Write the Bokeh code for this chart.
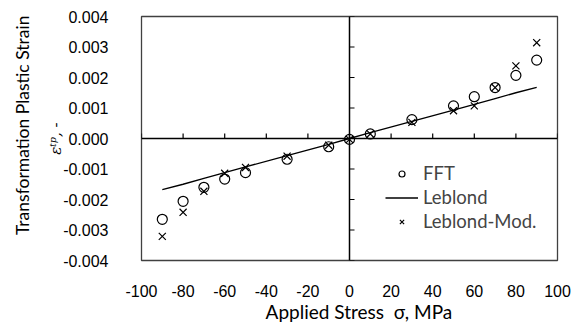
import math
from bokeh.plotting import figure
from bokeh.models import (Range1d, LinearAxis, FixedTicker, NumeralTickFormatter,
                          Span, Legend, LegendItem)
from bokeh.embed import file_html
from bokeh.resources import INLINE

stress = [-90, -80, -70, -60, -50, -30, -10, 0, 10, 30, 50, 60, 70, 80, 90]
fft = [-0.00265, -0.00206, -0.00160, -0.00133, -0.00112, -0.00068, -0.00027, -0.00003,
       0.00015, 0.00062, 0.00107, 0.00137, 0.00167, 0.00207, 0.00257]
leblond = [-0.00168, -0.00150, -0.00131, -0.00112, -0.00093, -0.00056, -0.00019, 0.0,
           0.00019, 0.00056, 0.00093, 0.00112, 0.00131, 0.00150, 0.00168]
leblond_mod = [-0.00321, -0.00242, -0.00173, -0.00114, -0.00095, -0.00058, -0.00022, -0.00003,
               0.00015, 0.00053, 0.00091, 0.00107, 0.00167, 0.00238, 0.00314]
x_ticks = [-100, -80, -60, -40, -20, 0, 20, 40, 60, 80, 100]
y_ticks = [-0.004, -0.003, -0.002, -0.001, 0.0, 0.001, 0.002, 0.003, 0.004]

TICK_FONT = "Liberation Sans"
TEXT_FONT = "Lato"
NB = "\u00a0"

p = figure(width=574, height=325, output_backend="svg", toolbar_location=None,
           x_range=Range1d(-100, 100), y_range=Range1d(-0.004, 0.004),
           min_border_left=141, min_border_right=17, min_border_top=16,
           min_border_bottom=63)
p.background_fill_color = "white"
p.border_fill_color = "white"
p.outline_line_color = "#404040"
p.outline_line_width = 1.3
p.grid.visible = False

xa = p.xaxis[0]
ya = p.yaxis[0]
for ax in (xa, ya):
    ax.axis_line_color = None
    ax.major_tick_line_color = None
    ax.minor_tick_line_color = None
    ax.major_label_text_font = TICK_FONT
    ax.major_label_text_font_size = "16px"
    ax.major_label_text_color = "black"
    ax.axis_label_text_color = "black"
xa.ticker = FixedTicker(ticks=x_ticks)
ya.ticker = FixedTicker(ticks=y_ticks)
xa.formatter = NumeralTickFormatter(format="0")
ya.formatter = NumeralTickFormatter(format="0.000")
xa.major_label_standoff = 18
ya.major_label_standoff = 27

xa.axis_label = NB * 4 + "Applied Stress" + NB + " σ, MPa"
xa.axis_label_text_font = TEXT_FONT
xa.axis_label_text_font_size = "19px"
xa.axis_label_text_font_style = "normal"
xa.axis_label_standoff = 0

ya.axis_label = "εᵗᵖ, -"
ya.axis_label_text_font = "DejaVu Serif"
ya.axis_label_text_font_style = "italic"
ya.axis_label_text_font_size = "15px"
ya.axis_label_standoff = -5

# outer y title line
y_title = LinearAxis(ticker=FixedTicker(ticks=[]), axis_line_color=None,
                     major_tick_line_color=None, minor_tick_line_color=None,
                     axis_label=NB * 6 + "Transformation Plastic Strain",
                     axis_label_text_font=TEXT_FONT, axis_label_text_font_size="17.5px",
                     axis_label_text_font_style="normal", axis_label_text_color="black",
                     axis_label_standoff=12)
p.add_layout(y_title, "left")

# axes crossing at zero, with inward ticks
p.add_layout(Span(location=0, dimension="height", line_color="black", line_width=1.5))
p.add_layout(Span(location=0, dimension="width", line_color="black", line_width=1.5))
p.ray(x=x_ticks, y=[0] * len(x_ticks), length=5, length_units="screen",
      angle=math.pi / 2, line_color="black", line_width=1.2)
p.ray(x=[0] * len(y_ticks), y=y_ticks, length=5, length_units="screen",
      angle=0, line_color="black", line_width=1.2)

r_line = p.line(stress, leblond, line_color="black", line_width=1.3)
r_fft = p.scatter(stress, fft, marker="circle", size=10, fill_color=None,
                  line_color="black", line_width=1.2)
r_mod = p.scatter(stress, leblond_mod, marker="x", size=10,
                  line_color="black", line_width=1.2)

legend = Legend(items=[LegendItem(label="FFT", renderers=[r_fft]),
                       LegendItem(label="Leblond", renderers=[r_line]),
                       LegendItem(label="Leblond-Mod.", renderers=[r_mod])],
                location=(244, 27), border_line_color=None, background_fill_alpha=0,
                padding=0, margin=0, spacing=0, glyph_width=33, glyph_height=15,
                label_height=24, label_standoff=5, label_text_font=TEXT_FONT,
                label_text_font_size="18.5px")
p.add_layout(legend)

open("out.html", "w").write(file_html(p, INLINE))
